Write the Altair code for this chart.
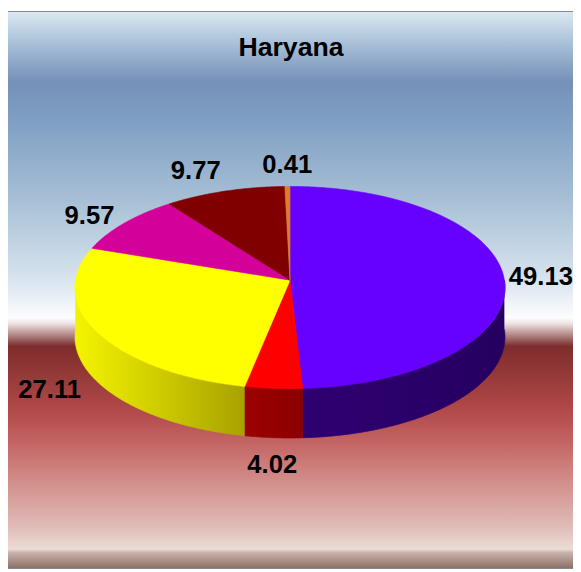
import math
import altair as alt
import pandas as pd

# ---- data ----
slices = ["Slice 1", "Slice 2", "Slice 3", "Slice 4", "Slice 5", "Slice 6"]
values = [49.13, 4.02, 27.11, 9.57, 9.77, 0.41]
top_colors = ["#6600ff", "#ff0000", "#ffff00", "#d4009a", "#800000", "#e07b2a"]
side_colors = {
    "Slice 1": ["#2e0072", "#260060"],
    "Slice 2": ["#9c0000", "#8c0000"],
    "Slice 3": ["#f4f400", "#a8a200"],
}
chart_title = "Haryana"

# ---- layout / geometry (style) ----
W, H = 573, 564
CX, CY = 286.0, 272.0      # pie centre on the top face
A, B = 217.4, 102.0         # half width / half height of the tilted disc
P = 0.0732                  # perspective factor
DEPTH = 50.0                # thickness of the pie
FONT = "Liberation Sans, Arial, sans-serif"
FS = 26


def proj(t, k=1.0):
    X, Z = math.sin(t) * k, math.cos(t) * k
    w = 1 + P * Z
    return CX + A * X / w, CY - B * Z / w


total = sum(values)
bounds = []
acc = 0.0
for v in values:
    t0 = 2 * math.pi * acc / total
    acc += v
    t1 = 2 * math.pi * acc / total
    bounds.append((t0, t1))


def arc_pts(t0, t1, step=math.radians(0.5)):
    n = max(2, int(math.ceil((t1 - t0) / step)) + 1)
    return [t0 + (t1 - t0) * i / (n - 1) for i in range(n)]


# top wedges
top_rows = []
for s, (t0, t1) in zip(slices, bounds):
    i = 0
    top_rows.append(dict(poly=s, slice=s, i=i, x=CX, y=CY)); i += 1
    for t in arc_pts(t0, t1):
        x, y = proj(t)
        top_rows.append(dict(poly=s, slice=s, i=i, x=x, y=y)); i += 1
    top_rows.append(dict(poly=s, slice=s, i=i, x=CX, y=CY))
top_df = pd.DataFrame(top_rows)

# front side walls
side_rows = []
lo, hi = math.pi / 2, 3 * math.pi / 2
for s, (t0, t1) in zip(slices, bounds):
    a, b = max(t0, lo), min(t1, hi)
    if b <= a:
        continue
    ts = arc_pts(a, b)
    i = 0
    for t in ts:
        x, y = proj(t)
        side_rows.append(dict(slice=s, i=i, x=x, y=y)); i += 1
    for t in reversed(ts):
        x, y = proj(t)
        side_rows.append(dict(slice=s, i=i, x=x, y=y + DEPTH)); i += 1
side_df = pd.DataFrame(side_rows)

# data labels placed outside the slice mid-angles
lab_rows = []
for s, v, (t0, t1) in zip(slices, values, bounds):
    tm = (t0 + t1) / 2
    X, Z = math.sin(tm), math.cos(tm)
    ax, ay = proj(tm)
    gap = 12
    if Z < 0:
        ay += DEPTH
        gap = 18
    ax += gap * X
    ay -= gap * Z
    txt = f"{v:.2f}"
    tw = FS * sum(0.278 if c == "." else 0.556 for c in txt)
    th = 19
    if X > 0.3:
        cx = ax + tw / 2
    elif X < -0.3:
        cx = ax - tw / 2
    else:
        cx = ax
    if Z > 0.7:
        cy = ay - th / 2
    elif Z < -0.7:
        cy = ay + th / 2
    else:
        cy = ay
    cx = min(max(cx, tw / 2 + 2), W - tw / 2)
    lab_rows.append(dict(slice=s, label=txt, x=cx, y=cy))
lab_df = pd.DataFrame(lab_rows)

xs = alt.Scale(domain=[0, W], nice=False, zero=False)
ys = alt.Scale(domain=[H, 0], nice=False, zero=False)
X_ = alt.X("x:Q", scale=xs, axis=None)
Y_ = alt.Y("y:Q", scale=ys, axis=None)

bg_stops = [
    ("#dce8f2", 0.0), ("#a8c0d8", 0.057), ("#7690b8", 0.125), ("#80a0c4", 0.2),
    ("#a8c0d6", 0.34), ("#d8e4ee", 0.482), ("#fdfdfe", 0.55), ("#eee4e4", 0.56),
    ("#c8a4a4", 0.574), ("#9a6464", 0.589), ("#7e2c2c", 0.601), ("#b04848", 0.713),
    ("#c26060", 0.766), ("#d08a86", 0.837), ("#e0bcb8", 0.926), ("#ecdcd6", 0.966),
    ("#c8b4ac", 0.972), ("#8e7068", 1.0),
]
bg = alt.Chart(pd.DataFrame({"a": [0]})).mark_rect(
    fill=alt.LinearGradient(
        gradient="linear",
        stops=[alt.GradientStop(color=c, offset=o) for c, o in bg_stops],
        x1=0, x2=0, y1=0, y2=1,
    )
).encode(x=alt.value(0), x2=alt.value(W), y=alt.value(0), y2=alt.value(H))

layers = [bg]
for s, (c0, c1) in side_colors.items():
    grad = alt.LinearGradient(
        gradient="linear",
        stops=[alt.GradientStop(color=c0, offset=0), alt.GradientStop(color=c1, offset=1)],
        x1=0, x2=1, y1=0, y2=0,
    )
    layers.append(
        alt.Chart(side_df).transform_filter(alt.datum.slice == s)
        .mark_line(fill=grad, stroke=grad, strokeWidth=0.8, interpolate="linear")
        .encode(x=X_, y=Y_, order=alt.Order("i:Q"))
    )

cscale = alt.Scale(domain=slices, range=top_colors)
top = alt.Chart(top_df).mark_line(strokeWidth=0.6).encode(
    x=X_, y=Y_, order=alt.Order("i:Q"), detail="poly:N",
    fill=alt.Fill("slice:N", scale=cscale, legend=None),
    stroke=alt.Stroke("slice:N", scale=cscale, legend=None),
)
layers.append(top)

labels = alt.Chart(lab_df).mark_text(
    font=FONT, fontSize=FS, fontWeight="bold", color="#000000",
    align="center", baseline="middle",
).encode(x=X_, y=Y_, text="label:N")
layers.append(labels)

title = alt.Chart(pd.DataFrame({"t": [chart_title]})).mark_text(
    font=FONT, fontSize=27, fontWeight="bold", color="#000000",
    align="center", baseline="middle",
).encode(x=alt.value(287), y=alt.value(37), text="t:N")
layers.append(title)

chart = alt.layer(*layers).properties(
    width=W, height=H, padding=0,
    autosize=alt.AutoSizeParams(type="none"),
).configure_view(stroke="#8a8a8a", strokeWidth=2)

chart.save("out.html", embed_options={"renderer": "svg", "actions": False})
